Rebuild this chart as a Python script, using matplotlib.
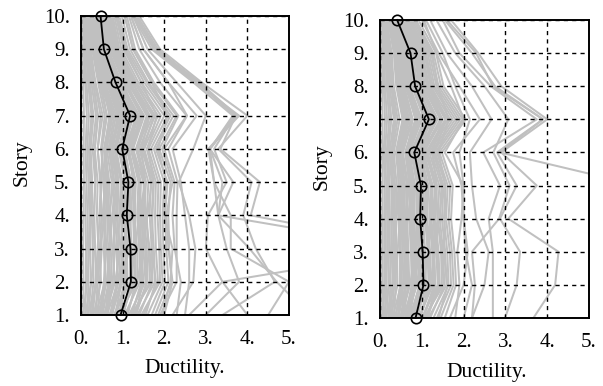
import matplotlib
matplotlib.use("Agg")
import matplotlib.pyplot as plt

stories = [1, 2, 3, 4, 5, 6, 7, 8, 9, 10]
x_ticks = [0, 1, 2, 3, 4, 5]
x_tick_labels = ["0.", "1.", "2.", "3.", "4.", "5."]
y_tick_labels = ["1.", "2.", "3.", "4.", "5.", "6.", "7.", "8.", "9.", "10."]

# Story ductility demand of each record, story 1 .. story 10
records_a = [
    [0.05, 0.06, 0.05, 0.06, 0.07, 0.06, 0.07, 0.05, 0.04, 0.03],
    [0.10, 0.12, 0.12, 0.11, 0.13, 0.11, 0.14, 0.10, 0.07, 0.05],
    [0.15, 0.18, 0.17, 0.16, 0.18, 0.15, 0.19, 0.13, 0.09, 0.07],
    [0.18, 0.24, 0.22, 0.21, 0.22, 0.19, 0.25, 0.17, 0.12, 0.09],
    [0.22, 0.30, 0.28, 0.26, 0.27, 0.23, 0.30, 0.20, 0.14, 0.11],
    [0.28, 0.36, 0.34, 0.32, 0.34, 0.28, 0.36, 0.25, 0.17, 0.13],
    [0.35, 0.40, 0.42, 0.38, 0.40, 0.33, 0.41, 0.29, 0.19, 0.15],
    [0.40, 0.45, 0.50, 0.44, 0.48, 0.40, 0.47, 0.33, 0.24, 0.19],
    [0.30, 0.48, 0.45, 0.50, 0.46, 0.40, 0.52, 0.35, 0.22, 0.18],
    [0.45, 0.55, 0.60, 0.52, 0.58, 0.48, 0.57, 0.41, 0.27, 0.21],
    [0.48, 0.60, 0.56, 0.58, 0.54, 0.50, 0.62, 0.44, 0.29, 0.23],
    [0.52, 0.66, 0.62, 0.64, 0.60, 0.55, 0.70, 0.48, 0.30, 0.25],
    [0.58, 0.68, 0.70, 0.66, 0.68, 0.58, 0.72, 0.50, 0.34, 0.27],
    [0.60, 0.72, 0.75, 0.70, 0.74, 0.62, 0.76, 0.52, 0.36, 0.28],
    [0.64, 0.76, 0.82, 0.76, 0.80, 0.66, 0.80, 0.56, 0.40, 0.30],
    [0.55, 0.80, 0.78, 0.82, 0.77, 0.69, 0.84, 0.58, 0.38, 0.31],
    [0.70, 0.86, 0.88, 0.80, 0.85, 0.72, 0.90, 0.63, 0.42, 0.34],
    [0.72, 0.90, 0.85, 0.88, 0.90, 0.76, 0.93, 0.65, 0.44, 0.35],
    [0.75, 0.95, 0.90, 0.92, 0.96, 0.80, 0.97, 0.66, 0.45, 0.36],
    [0.82, 0.98, 0.96, 0.98, 1.00, 0.82, 1.00, 0.70, 0.47, 0.38],
    [0.68, 1.00, 1.02, 0.95, 0.98, 0.85, 1.05, 0.72, 0.48, 0.40],
    [0.85, 1.05, 1.08, 1.02, 1.06, 0.90, 1.10, 0.76, 0.52, 0.42],
    [0.92, 1.08, 1.12, 1.05, 1.08, 0.92, 1.12, 0.78, 0.53, 0.43],
    [0.90, 1.12, 1.10, 1.08, 1.12, 0.95, 1.15, 0.80, 0.55, 0.44],
    [0.80, 1.18, 1.20, 1.12, 1.15, 1.00, 1.22, 0.85, 0.57, 0.47],
    [1.02, 1.20, 1.18, 1.15, 1.18, 1.02, 1.24, 0.87, 0.58, 0.48],
    [1.00, 1.25, 1.22, 1.18, 1.20, 1.04, 1.26, 0.88, 0.60, 0.50],
    [0.95, 1.30, 1.28, 1.25, 1.28, 1.10, 1.32, 0.92, 0.62, 0.52],
    [1.12, 1.32, 1.30, 1.30, 1.30, 1.12, 1.35, 0.95, 0.64, 0.54],
    [1.10, 1.36, 1.35, 1.28, 1.32, 1.15, 1.38, 0.97, 0.66, 0.55],
    [1.05, 1.42, 1.40, 1.35, 1.38, 1.20, 1.45, 1.02, 0.70, 0.58],
    [1.22, 1.45, 1.42, 1.38, 1.42, 1.22, 1.48, 1.04, 0.71, 0.59],
    [1.20, 1.48, 1.45, 1.42, 1.44, 1.25, 1.52, 1.06, 0.72, 0.60],
    [1.15, 1.55, 1.50, 1.46, 1.52, 1.32, 1.58, 1.12, 0.76, 0.63],
    [1.32, 1.58, 1.54, 1.50, 1.55, 1.34, 1.62, 1.15, 0.78, 0.64],
    [1.30, 1.60, 1.58, 1.52, 1.56, 1.36, 1.65, 1.18, 0.80, 0.66],
    [1.25, 1.66, 1.62, 1.58, 1.62, 1.40, 1.72, 1.22, 0.84, 0.70],
    [1.40, 1.72, 1.70, 1.65, 1.68, 1.46, 1.78, 1.28, 0.88, 0.72],
    [1.35, 1.78, 1.75, 1.70, 1.74, 1.52, 1.85, 1.33, 0.92, 0.76],
    [1.50, 1.85, 1.80, 1.78, 1.80, 1.58, 1.92, 1.38, 0.97, 0.80],
    [1.45, 1.90, 1.88, 1.84, 1.86, 1.62, 2.00, 1.45, 1.02, 0.84],
    [1.60, 1.96, 1.92, 1.90, 1.92, 1.68, 2.08, 1.52, 1.08, 0.88],
    [1.70, 2.02, 1.98, 1.96, 2.00, 1.75, 2.15, 1.58, 1.12, 0.92],
    [1.78, 2.10, 2.05, 2.02, 2.08, 1.80, 2.22, 1.62, 1.18, 0.98],
    [1.85, 2.18, 2.12, 2.10, 2.15, 1.88, 2.30, 1.70, 1.25, 1.05],
    [0.40, 0.62, 0.70, 0.66, 0.80, 0.70, 0.95, 0.70, 0.50, 0.40],
    [0.62, 0.90, 1.05, 1.10, 1.20, 1.05, 1.35, 0.95, 0.62, 0.45],
    [0.25, 0.35, 0.40, 0.45, 0.50, 0.50, 0.62, 0.48, 0.36, 0.30],
    [0.90, 1.35, 1.50, 1.45, 1.40, 1.20, 1.30, 0.85, 0.50, 0.38],
    [1.20, 1.70, 1.65, 1.55, 1.50, 1.25, 1.40, 0.95, 0.58, 0.42],
    [0.10, 0.25, 0.32, 0.30, 0.35, 0.33, 0.40, 0.30, 0.22, 0.18],
    [0.48, 0.70, 0.66, 0.75, 0.90, 0.82, 1.00, 0.78, 0.56, 0.48],
    [1.00, 1.20, 1.30, 1.40, 1.55, 1.45, 1.65, 1.25, 0.85, 0.65],
    [0.35, 0.58, 0.55, 0.60, 0.65, 0.58, 0.68, 0.55, 0.42, 0.36],
    [0.80, 1.10, 0.98, 1.00, 1.10, 1.00, 1.20, 1.05, 0.75, 0.60],
    [0.58, 0.82, 0.95, 0.85, 0.88, 0.75, 0.88, 0.62, 0.40, 0.30],
    [1.30, 1.50, 1.45, 1.60, 1.70, 1.50, 1.75, 1.30, 0.92, 0.75],
    [0.72, 1.00, 1.15, 1.20, 1.25, 1.15, 1.45, 1.10, 0.80, 0.70],
    [1.55, 1.80, 1.70, 1.72, 1.75, 1.60, 1.82, 1.45, 1.05, 0.85],
    [0.15, 0.40, 0.48, 0.55, 0.62, 0.60, 0.75, 0.58, 0.44, 0.38],
    [0.05, 0.15, 0.20, 0.22, 0.25, 0.22, 0.28, 0.22, 0.16, 0.12],
    [2.00, 2.20, 2.10, 2.05, 2.20, 1.95, 2.34, 1.75, 1.30, 1.10],
    [2.30, 2.40, 2.25, 2.20, 2.25, 2.00, 2.54, 1.90, 1.40, 1.15],
    [2.50, 2.60, 2.60, 2.50, 2.40, 2.20, 2.78, 2.10, 1.50, 1.20],
    [1.95, 2.15, 2.20, 2.00, 2.05, 1.85, 2.08, 1.70, 1.25, 1.05],
    [2.20, 2.70, 2.75, 2.60, 2.35, 2.70, 3.00, 2.30, 1.60, 1.25],
    [1.90, 2.30, 2.30, 2.30, 2.32, 2.10, 2.55, 2.10, 1.50, 1.20],
    [3.40, 4.66, 4.20, 3.90, 4.10, 3.30, 4.00, 2.90, 1.90, 1.40],
    [3.00, 3.80, 3.50, 3.30, 3.66, 3.10, 3.75, 2.85, 1.80, 1.30],
    [2.60, 3.40, 3.00, 3.05, 3.50, 3.20, 3.70, 2.80, 1.85, 1.35],
    [5.50, 4.70, 4.05, 3.30, 3.20, 3.06, 3.80, 2.75, 1.75, 1.30],
    [6.00, 6.50, 8.00, 3.30, 3.40, 3.10, 3.70, 2.80, 1.80, 1.30],
    [4.00, 3.40, 8.20, 4.08, 4.30, 3.35, 3.72, 2.78, 1.78, 1.28],
    [4.50, 5.00, 3.60, 3.60, 3.20, 3.10, 3.65, 2.70, 1.70, 1.25],
]
mean_a = [0.95, 1.20, 1.19, 1.10, 1.14, 0.99, 1.18, 0.83, 0.55, 0.47]

records_b = [
    [0.04, 0.05, 0.05, 0.05, 0.06, 0.05, 0.06, 0.05, 0.04, 0.03],
    [0.08, 0.10, 0.10, 0.10, 0.11, 0.09, 0.12, 0.09, 0.07, 0.05],
    [0.12, 0.15, 0.14, 0.14, 0.15, 0.12, 0.17, 0.12, 0.10, 0.06],
    [0.16, 0.20, 0.19, 0.18, 0.19, 0.16, 0.22, 0.16, 0.13, 0.08],
    [0.20, 0.25, 0.24, 0.22, 0.23, 0.19, 0.27, 0.19, 0.16, 0.09],
    [0.24, 0.30, 0.29, 0.27, 0.28, 0.23, 0.33, 0.23, 0.20, 0.11],
    [0.28, 0.34, 0.33, 0.31, 0.32, 0.27, 0.38, 0.27, 0.23, 0.13],
    [0.33, 0.38, 0.37, 0.35, 0.36, 0.30, 0.42, 0.30, 0.26, 0.15],
    [0.25, 0.42, 0.40, 0.38, 0.40, 0.33, 0.47, 0.33, 0.28, 0.16],
    [0.38, 0.48, 0.47, 0.45, 0.46, 0.38, 0.54, 0.39, 0.33, 0.19],
    [0.42, 0.52, 0.50, 0.48, 0.50, 0.41, 0.58, 0.42, 0.36, 0.21],
    [0.45, 0.56, 0.54, 0.52, 0.53, 0.44, 0.62, 0.45, 0.38, 0.22],
    [0.50, 0.60, 0.58, 0.55, 0.56, 0.47, 0.66, 0.48, 0.40, 0.24],
    [0.52, 0.63, 0.62, 0.58, 0.60, 0.50, 0.70, 0.50, 0.43, 0.25],
    [0.56, 0.67, 0.65, 0.62, 0.64, 0.53, 0.74, 0.53, 0.46, 0.27],
    [0.48, 0.70, 0.68, 0.65, 0.67, 0.55, 0.78, 0.56, 0.48, 0.28],
    [0.60, 0.76, 0.74, 0.70, 0.72, 0.60, 0.85, 0.61, 0.52, 0.30],
    [0.64, 0.79, 0.77, 0.73, 0.75, 0.62, 0.88, 0.63, 0.54, 0.32],
    [0.66, 0.82, 0.80, 0.76, 0.78, 0.65, 0.92, 0.66, 0.56, 0.33],
    [0.70, 0.85, 0.83, 0.79, 0.81, 0.67, 0.96, 0.69, 0.59, 0.34],
    [0.62, 0.88, 0.86, 0.82, 0.84, 0.70, 1.00, 0.71, 0.61, 0.35],
    [0.74, 0.94, 0.92, 0.87, 0.89, 0.74, 1.06, 0.76, 0.66, 0.37],
    [0.78, 0.97, 0.95, 0.90, 0.92, 0.77, 1.09, 0.78, 0.68, 0.39],
    [0.80, 1.00, 0.98, 0.92, 0.94, 0.79, 1.12, 0.80, 0.70, 0.40],
    [0.72, 1.05, 1.04, 0.98, 1.00, 0.84, 1.19, 0.85, 0.74, 0.42],
    [0.86, 1.08, 1.06, 1.00, 1.02, 0.86, 1.22, 0.88, 0.76, 0.44],
    [0.88, 1.10, 1.08, 1.03, 1.05, 0.88, 1.25, 0.90, 0.78, 0.45],
    [0.84, 1.16, 1.14, 1.08, 1.10, 0.92, 1.31, 0.94, 0.82, 0.47],
    [0.94, 1.19, 1.17, 1.10, 1.13, 0.95, 1.34, 0.96, 0.84, 0.49],
    [0.96, 1.22, 1.20, 1.13, 1.16, 0.97, 1.38, 0.99, 0.86, 0.50],
    [0.92, 1.27, 1.25, 1.18, 1.21, 1.01, 1.44, 1.03, 0.90, 0.52],
    [1.02, 1.30, 1.28, 1.20, 1.24, 1.03, 1.47, 1.06, 0.92, 0.54],
    [1.04, 1.32, 1.30, 1.23, 1.26, 1.05, 1.50, 1.08, 0.94, 0.55],
    [1.00, 1.38, 1.35, 1.28, 1.31, 1.10, 1.56, 1.12, 0.98, 0.58],
    [1.10, 1.40, 1.38, 1.30, 1.34, 1.12, 1.59, 1.15, 1.00, 0.60],
    [1.12, 1.43, 1.40, 1.33, 1.36, 1.14, 1.62, 1.17, 1.02, 0.61],
    [1.08, 1.48, 1.46, 1.38, 1.42, 1.18, 1.68, 1.21, 1.06, 0.64],
    [1.20, 1.54, 1.51, 1.43, 1.47, 1.23, 1.74, 1.26, 1.10, 0.68],
    [1.16, 1.59, 1.56, 1.48, 1.52, 1.27, 1.80, 1.30, 1.14, 0.72],
    [1.28, 1.64, 1.61, 1.53, 1.57, 1.32, 1.86, 1.35, 1.18, 0.76],
    [1.36, 1.70, 1.67, 1.58, 1.62, 1.36, 1.92, 1.40, 1.22, 0.80],
    [1.45, 1.76, 1.72, 1.64, 1.68, 1.42, 1.98, 1.46, 1.28, 0.86],
    [1.55, 1.82, 1.78, 1.70, 1.74, 1.48, 2.05, 1.52, 1.34, 0.92],
    [0.35, 0.55, 0.62, 0.60, 0.70, 0.62, 0.85, 0.64, 0.58, 0.36],
    [0.55, 0.80, 0.92, 0.95, 1.02, 0.90, 1.20, 0.88, 0.75, 0.45],
    [0.22, 0.30, 0.35, 0.40, 0.44, 0.42, 0.55, 0.45, 0.40, 0.28],
    [0.80, 1.20, 1.32, 1.28, 1.22, 1.02, 1.15, 0.80, 0.62, 0.34],
    [1.05, 1.52, 1.48, 1.38, 1.34, 1.08, 1.25, 0.90, 0.70, 0.38],
    [0.08, 0.22, 0.28, 0.27, 0.30, 0.28, 0.35, 0.28, 0.24, 0.15],
    [0.42, 0.62, 0.58, 0.66, 0.78, 0.72, 0.90, 0.72, 0.65, 0.44],
    [0.90, 1.05, 1.15, 1.22, 1.36, 1.25, 1.48, 1.15, 0.98, 0.62],
    [0.30, 0.50, 0.48, 0.53, 0.57, 0.50, 0.60, 0.50, 0.47, 0.32],
    [0.70, 0.96, 0.86, 0.88, 0.96, 0.86, 1.08, 0.98, 0.90, 0.58],
    [0.50, 0.72, 0.84, 0.76, 0.78, 0.65, 0.78, 0.58, 0.48, 0.27],
    [1.15, 1.32, 1.28, 1.42, 1.50, 1.30, 1.58, 1.22, 1.08, 0.72],
    [0.64, 0.88, 1.00, 1.05, 1.10, 1.00, 1.30, 1.02, 0.92, 0.66],
    [1.40, 1.62, 1.52, 1.55, 1.56, 1.40, 1.64, 1.38, 1.25, 0.82],
    [0.12, 0.35, 0.42, 0.48, 0.55, 0.52, 0.66, 0.55, 0.50, 0.34],
    [0.05, 0.12, 0.18, 0.20, 0.22, 0.20, 0.26, 0.21, 0.18, 0.12],
    [1.67, 2.00, 2.10, 2.00, 2.00, 1.90, 2.15, 1.80, 1.50, 1.10],
    [2.00, 2.20, 2.05, 2.00, 1.95, 1.75, 2.39, 1.90, 1.40, 1.00],
    [2.20, 2.50, 2.60, 2.30, 2.20, 2.15, 2.67, 2.20, 1.60, 1.20],
    [1.80, 1.90, 1.85, 1.95, 2.00, 1.55, 2.00, 1.70, 1.35, 1.05],
    [3.67, 4.19, 4.27, 3.07, 3.75, 2.90, 4.00, 2.90, 2.35, 1.70],
    [2.99, 3.27, 3.35, 2.87, 3.27, 2.80, 3.90, 2.70, 2.30, 1.60],
    [2.70, 2.70, 2.70, 2.60, 2.87, 2.47, 3.75, 2.65, 1.90, 1.50],
    [6.50, 7.00, 7.50, 7.00, 6.20, 2.87, 3.90, 2.75, 2.20, 1.55],
    [2.20, 2.27, 2.20, 2.85, 3.10, 2.71, 3.07, 2.50, 1.80, 1.35],
]
mean_b = [0.85, 1.04, 1.02, 0.96, 0.98, 0.82, 1.17, 0.84, 0.73, 0.41]

GRAY = "#c0c0c0"
FONT = "Liberation Serif"

fig = plt.figure(figsize=(6.03, 3.86), dpi=100)
W, H = 603, 386


def panel(box, records, mean_vals):
    x0, y0, x1, y1 = box
    ax = fig.add_axes([x0 / W, 1 - y1 / H, (x1 - x0) / W, (y1 - y0) / H])
    for rec in records:
        ax.plot(rec, stories, color=GRAY, lw=1.45, zorder=1)
    ax.plot(mean_vals, stories, color="black", lw=1.3, marker="o", ms=7.5,
            mfc="none", mec="black", mew=1.2, zorder=4, clip_on=False)
    ax.set_xlim(0, 5)
    ax.set_ylim(1, 10)
    ax.set_xticks(x_ticks)
    ax.set_xticklabels(x_tick_labels, fontfamily=FONT, fontsize=15)
    ax.set_yticks(stories)
    ax.set_yticklabels(y_tick_labels, fontfamily=FONT, fontsize=15)
    ax.tick_params(length=0, pad=8)
    ax.tick_params(axis="x", pad=11)
    ax.set_axisbelow(False)
    ax.grid(True, color="black", lw=1.0, linestyle=(0, (3, 3)))
    for sp in ax.spines.values():
        sp.set_linewidth(1.4)
        sp.set_zorder(5)
    return ax


panel((81, 16, 289, 315), records_a, mean_a)
panel((380, 20, 589, 318), records_b, mean_b)

fig.text(22 / W, 1 - 163 / H, "Story", rotation=90, ha="center", va="center",
         fontfamily=FONT, fontsize=15.5)
fig.text(322 / W, 1 - 167 / H, "Story", rotation=90, ha="center", va="center",
         fontfamily=FONT, fontsize=15.5)
fig.text(185 / W, 1 - 368 / H, "Ductility.", ha="center", va="center",
         fontfamily=FONT, fontsize=15.5)
fig.text(487 / W, 1 - 373 / H, "Ductility.", ha="center", va="center",
         fontfamily=FONT, fontsize=15.5)

fig.savefig("out.png", dpi=100)
